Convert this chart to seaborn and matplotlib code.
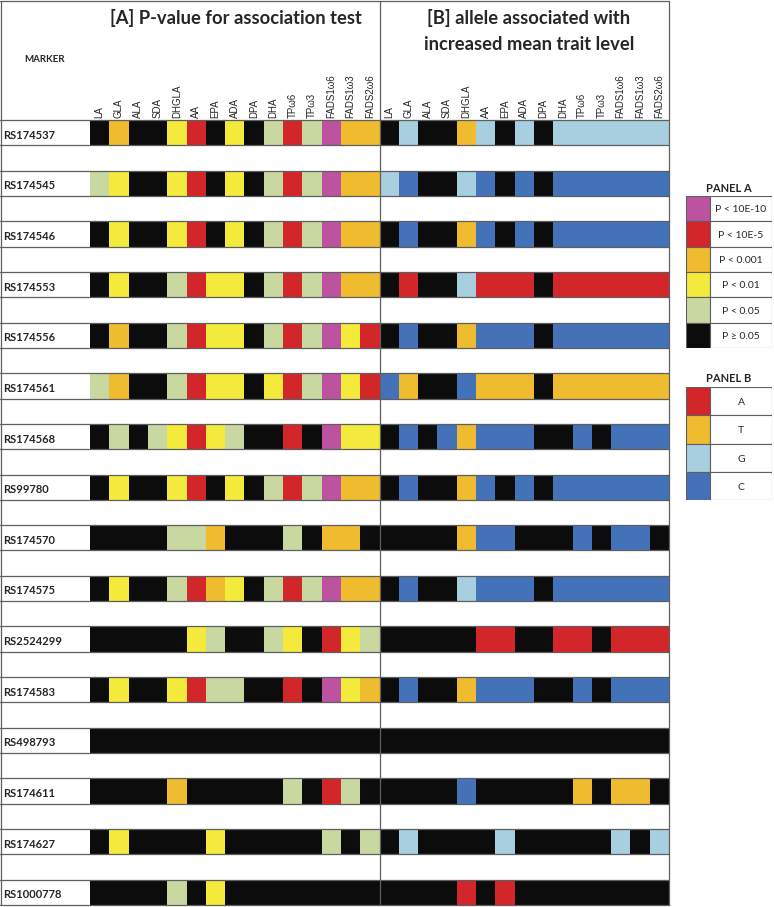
import numpy as np
import matplotlib
matplotlib.use("Agg")
import matplotlib.pyplot as plt
from matplotlib.colors import ListedColormap
from matplotlib.patches import Rectangle
from matplotlib.lines import Line2D
from matplotlib.transforms import blended_transform_factory
import seaborn as sns

markers = ["RS174537", "RS174545", "RS174546", "RS174553", "RS174556", "RS174561",
           "RS174568", "RS99780", "RS174570", "RS174575", "RS2524299", "RS174583",
           "RS498793", "RS174611", "RS174627", "RS1000778"]
traits = ["LA", "GLA", "ALA", "SDA", "DHGLA", "AA", "EPA", "ADA", "DPA", "DHA",
          "TPω6", "TPω3", "FADS1ω6", "FADS1ω3", "FADS2ω6"]

# panel A classes: 0 = P>=0.05, 1 = <0.05, 2 = <0.01, 3 = <0.001, 4 = <10E-5, 5 = <10E-10
pvalue_class = [
    [0, 3, 0, 0, 2, 4, 0, 2, 0, 1, 4, 1, 5, 3, 3],
    [1, 2, 0, 0, 2, 4, 0, 2, 0, 1, 4, 1, 5, 3, 3],
    [0, 2, 0, 0, 2, 4, 0, 2, 0, 1, 4, 1, 5, 3, 3],
    [0, 2, 0, 0, 1, 4, 2, 2, 0, 1, 4, 1, 5, 3, 3],
    [0, 3, 0, 0, 1, 4, 2, 2, 0, 1, 4, 1, 5, 2, 4],
    [1, 3, 0, 0, 1, 4, 2, 2, 0, 2, 4, 1, 5, 2, 4],
    [0, 1, 0, 1, 2, 4, 2, 1, 0, 0, 4, 0, 5, 2, 2],
    [0, 2, 0, 0, 2, 4, 0, 2, 0, 1, 4, 1, 5, 3, 3],
    [0, 0, 0, 0, 1, 1, 3, 0, 0, 0, 1, 0, 3, 3, 0],
    [0, 2, 0, 0, 1, 4, 3, 2, 0, 1, 4, 1, 5, 3, 3],
    [0, 0, 0, 0, 0, 2, 1, 0, 0, 1, 2, 0, 4, 2, 1],
    [0, 2, 0, 0, 2, 4, 1, 1, 0, 0, 4, 0, 5, 2, 3],
    [0, 0, 0, 0, 0, 0, 0, 0, 0, 0, 0, 0, 0, 0, 0],
    [0, 0, 0, 0, 3, 0, 0, 0, 0, 0, 1, 0, 4, 1, 0],
    [0, 2, 0, 0, 0, 0, 2, 0, 0, 0, 0, 0, 1, 0, 1],
    [0, 0, 0, 0, 1, 0, 2, 0, 0, 0, 0, 0, 0, 0, 0],
]
# panel B: allele per trait, N = not significant
allele = [
    "NGNNTGNGNGGGGGG",
    "GCNNGCNCNCCCCCC",
    "NCNNTCNCNCCCCCC",
    "NANNGAAANAAAAAA",
    "NCNNTCCCNCCCCCC",
    "CTNNCTTTNTTTTTT",
    "NCNCTCCCNNCNCCC",
    "NCNNTCNCNCCCCCC",
    "NNNNTCCNNNCNCCN",
    "NCNNGCCCNCCCCCC",
    "NNNNNAANNAANAAA",
    "NCNNTCCCNNCNCCC",
    "NNNNNNNNNNNNNNN",
    "NNNNCNNNNNTNTTN",
    "NGNNNNGNNNNNGNG",
    "NNNNANANNNNNNNN",
]

p_labels = ["P < 10E-10", "P < 10E-5", "P < 0.001", "P < 0.01", "P < 0.05", "P ≥ 0.05"]
p_order = [5, 4, 3, 2, 1, 0]
allele_labels = ["A", "T", "G", "C"]

p_colors = ["#0c0c0c", "#c9d8a0", "#f3ea3c", "#efbb2f", "#d3262b", "#bd52a0"]
allele_colors = {"N": "#0c0c0c", "A": "#d3262b", "T": "#efbb2f", "G": "#a7cfdf", "C": "#4472b9"}
allele_code = {"N": 0, "A": 6, "T": 7, "G": 8, "C": 9}

sns.set_style("white")
plt.rcParams["font.family"] = ["Lato", "DejaVu Sans"]

W, H = 774, 907
fig = plt.figure(figsize=(W / 100, H / 100), dpi=100)


def fx(x):
    return x / W


def fy(y):
    return 1 - y / H


# grid: data rows alternate with empty spacer rows
n = len(markers)
grid = np.full((2 * n - 1, 2 * len(traits)), np.nan)
for i in range(n):
    grid[2 * i, :len(traits)] = pvalue_class[i]
    grid[2 * i, len(traits):] = [allele_code[c] for c in allele[i]]

cmap = ListedColormap(p_colors + [allele_colors[k] for k in allele_labels])

x0, x1, y0, y1 = 90, 669, 120, 905
ax = fig.add_axes([fx(x0), fy(y1), (x1 - x0) / W, (y1 - y0) / H])
sns.heatmap(grid, ax=ax, cmap=cmap, vmin=-0.5, vmax=9.5, cbar=False,
            xticklabels=traits + traits, yticklabels=False)
ax.xaxis.tick_top()
ax.tick_params(axis="x", length=0, pad=1.5)
ax.set_xticklabels(traits + traits, rotation=90, fontsize=7,
                   fontfamily=["Liberation Sans", "DejaVu Sans"])

grey = "#5f5f5f"
tr = blended_transform_factory(fig.transFigure, ax.transData)
for y in range(grid.shape[0] + 1):
    ax.plot([fx(0), fx(x1)], [y, y], transform=tr, color=grey, lw=0.9, clip_on=False)

for i, m in enumerate(markers):
    ax.text(fx(3), 2 * i + 0.6, m, transform=tr, ha="left", va="center",
            fontsize=8, fontweight="bold")

# frame
for xv in [0.5, 379.5, 669]:
    fig.add_artist(Line2D([fx(xv), fx(xv)], [fy(1), fy(905)], color=grey, lw=0.9))
fig.add_artist(Line2D([fx(0), fx(669)], [fy(1), fy(1)], color=grey, lw=0.9))

fig.text(fx(236), fy(18), "[A] P-value for association test", ha="center", va="center",
         fontsize=13.2, fontweight="bold")
fig.text(fx(529), fy(18), "[B] allele associated with", ha="center", va="center",
         fontsize=13.2, fontweight="bold")
fig.text(fx(529), fy(45), "increased mean trait level", ha="center", va="center",
         fontsize=13.2, fontweight="bold")
fig.text(fx(24), fy(60), "MARKER", ha="left", va="center", fontsize=7, fontweight="bold")


def legend_box(top, bottom, title, title_y, colors, labels):
    lax = fig.add_axes([fx(686), fy(bottom), (772 - 686) / W, (bottom - top) / H])
    lax.set_xlim(0, 86)
    lax.set_ylim(len(labels), 0)
    lax.axis("off")
    for k, (c, lab) in enumerate(zip(colors, labels)):
        lax.add_patch(Rectangle((0, k), 24, 1, fc=c, ec=grey, lw=0.8))
        lax.add_patch(Rectangle((24, k), 62, 1, fc="white", ec=grey, lw=0.8))
        lax.text(55, k + 0.55, lab, ha="center", va="center", fontsize=7.5)
    fig.text(fx(729), fy(title_y), title, ha="center", va="center",
             fontsize=8, fontweight="bold")


legend_box(196, 348, "PANEL A", 188, [p_colors[c] for c in p_order], p_labels)
legend_box(387, 500, "PANEL B", 379, [allele_colors[k] for k in allele_labels], allele_labels)

fig.savefig("out.png", dpi=100)
